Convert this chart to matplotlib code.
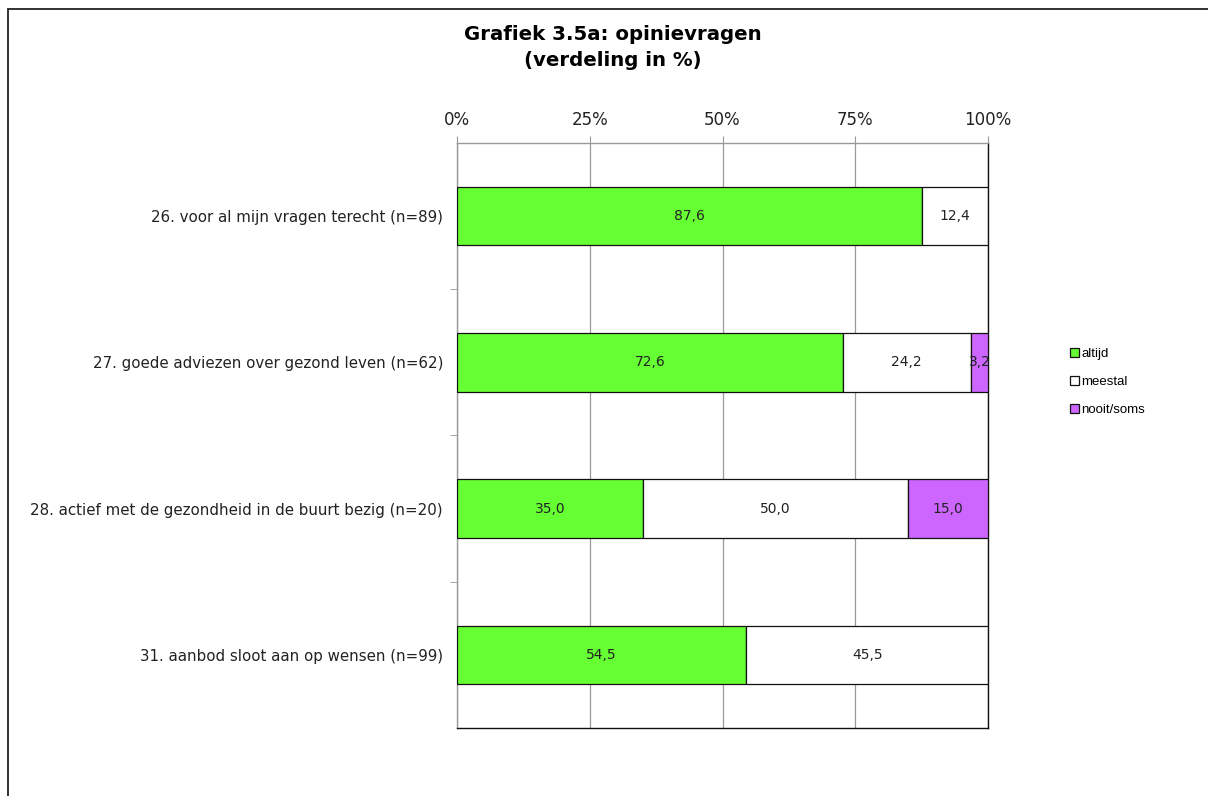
import matplotlib.pyplot as plt
from matplotlib.patches import Rectangle
import numpy as np

questions = [
    "26. voor al mijn vragen terecht (n=89)",
    "27. goede adviezen over gezond leven (n=62)",
    "28. actief met de gezondheid in de buurt bezig (n=20)",
    "31. aanbod sloot aan op wensen (n=99)",
]
series_names = ["altijd", "meestal", "nooit/soms"]
altijd = [87.6, 72.6, 35.0, 54.5]
meestal = [12.4, 24.2, 50.0, 45.5]
nooit_soms = [0.0, 3.2, 15.0, 0.0]
colors = ["#66FF33", "#FFFFFF", "#CC66FF"]
x_ticks = [0, 25, 50, 75, 100]

fig = plt.figure(figsize=(12.08, 7.96), dpi=100)
fig.patches.append(Rectangle((8 / 1208, -0.1), 1.2, 1 - 9 / 796 + 0.1,
                             transform=fig.transFigure, fill=False,
                             edgecolor="#222222", linewidth=1.3))

ax = fig.add_axes([457 / 1208, 1 - 728 / 796, 531 / 1208, 585 / 796])

y = np.arange(len(questions)) + 0.5
left = np.zeros(len(questions))
handles = []
for name, vals, col in zip(series_names, [altijd, meestal, nooit_soms], colors):
    vals = np.array(vals)
    bars = ax.barh(y, vals, left=left, height=0.4, color=col,
                   edgecolor="#111111", linewidth=0.9, label=name, zorder=3)
    handles.append(bars)
    for yi, l, v in zip(y, left, vals):
        if v > 0:
            ax.text(l + v / 2, yi, f"{v:.1f}".replace(".", ","),
                    ha="center", va="center", fontsize=10,
                    color="#222222", zorder=4)
    left += vals

ax.set_xlim(0, 100)
ax.set_ylim(len(questions), 0)
ax.xaxis.tick_top()
ax.set_xticks(x_ticks)
ax.set_xticklabels([f"{t}%" for t in x_ticks], fontsize=12, color="#222222")
ax.tick_params(axis="x", length=5, color="#999999", pad=5)
ax.grid(axis="x", color="#999999", linewidth=0.9, zorder=0)

ax.set_yticks(y)
ax.set_yticklabels(questions, fontsize=10.8, color="#222222")
ax.tick_params(axis="y", which="major", length=0, pad=10)
ax.set_yticks([1, 2, 3], minor=True)
ax.tick_params(axis="y", which="minor", length=5, color="#999999")

ax.spines["left"].set_color("#999999")
ax.spines["top"].set_color("#999999")
ax.spines["right"].set_color("#111111")
ax.spines["bottom"].set_color("#111111")
for s in ax.spines.values():
    s.set_linewidth(1.0)

fig.text(613 / 1208, 1 - 35 / 796, "Grafiek 3.5a: opinievragen",
         ha="center", va="center", fontsize=14.2, fontweight="bold")
fig.text(613 / 1208, 1 - 60 / 796, "(verdeling in %)",
         ha="center", va="center", fontsize=14.2, fontweight="bold")

leg = fig.legend(handles=handles, labels=series_names,
                 loc="center left", bbox_to_anchor=(1063 / 1208, 1 - 382 / 796),
                 frameon=False, prop={"family": "Liberation Sans", "size": 9.5},
                 handlelength=0.7, handleheight=0.7, handletextpad=0.2,
                 labelspacing=1.2, borderpad=0)

fig.savefig("out.png", dpi=100)
